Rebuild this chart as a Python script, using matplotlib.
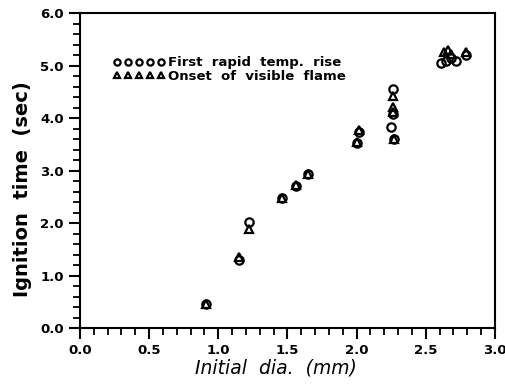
import matplotlib
matplotlib.use("Agg")
import matplotlib.pyplot as plt
from matplotlib.ticker import MultipleLocator, FormatStrFormatter

# First rapid temperature rise (circles)
dia_rise = [0.91, 1.15, 1.22, 1.46, 1.56, 1.65, 2.00, 2.02, 2.26, 2.26, 2.25, 2.27,
            2.61, 2.65, 2.68, 2.72, 2.79]
time_rise = [0.45, 1.30, 2.02, 2.47, 2.71, 2.93, 3.53, 3.73, 4.56, 4.08, 3.83, 3.60,
             5.05, 5.08, 5.15, 5.08, 5.20]

# Onset of visible flame (triangles)
dia_flame = [0.91, 1.15, 1.22, 1.46, 1.56, 1.65, 2.00, 2.02, 2.26, 2.26, 2.26, 2.27,
             2.63, 2.66, 2.68, 2.79]
time_flame = [0.45, 1.35, 1.88, 2.48, 2.72, 2.93, 3.55, 3.78, 4.42, 4.22, 4.12, 3.60,
              5.25, 5.30, 5.22, 5.25]

fig = plt.figure(figsize=(5.06, 3.85), dpi=100)
ax = fig.add_axes([0.158, 0.148, 0.820, 0.818])

ax.plot(dia_rise, time_rise, linestyle="none", marker="o", markersize=6,
        markerfacecolor="none", markeredgecolor="black", markeredgewidth=1.6,
        label="First  rapid  temp.  rise")
ax.plot(dia_flame, time_flame, linestyle="none", marker="^", markersize=5.5,
        markerfacecolor="none", markeredgecolor="black", markeredgewidth=1.6,
        label="Onset  of  visible  flame")

ax.set_xlim(0, 3.0)
ax.set_ylim(0, 6.0)
ax.xaxis.set_major_locator(MultipleLocator(0.5))
ax.xaxis.set_minor_locator(MultipleLocator(0.1))
ax.yaxis.set_major_locator(MultipleLocator(1.0))
ax.yaxis.set_minor_locator(MultipleLocator(0.2))
ax.xaxis.set_major_formatter(FormatStrFormatter("%.1f"))
ax.yaxis.set_major_formatter(FormatStrFormatter("%.1f"))

ax.tick_params(which="major", direction="out", length=8, width=1.5,
               labelsize=9.5)
ax.tick_params(which="minor", direction="out", length=5, width=1.3)
for lab in ax.get_xticklabels() + ax.get_yticklabels():
    lab.set_fontweight("bold")
for sp in ax.spines.values():
    sp.set_linewidth(1.5)

# axis titles placed in figure coords
fig.text(0.545, 0.044, "Initial  dia.  (mm)", fontsize=13.5, style="italic",
         ha="center", va="center")
fig.text(0.045, 0.51, "Ignition  time  (sec)", fontsize=14, fontweight="bold",
         rotation=90, ha="center", va="center")

leg = ax.legend(loc="upper left", bbox_to_anchor=(0.068, 0.88), numpoints=5,
                markerscale=0.75, handlelength=3.9, handletextpad=0.25,
                labelspacing=0.05, frameon=False, borderaxespad=0,
                prop={"size": 9.5, "weight": "bold"})

fig.savefig("out.png", dpi=100)
